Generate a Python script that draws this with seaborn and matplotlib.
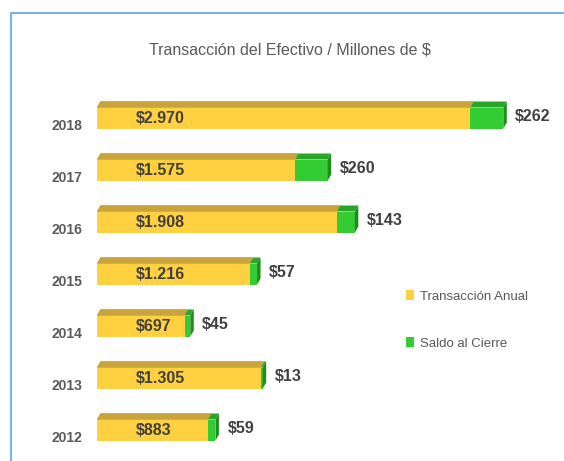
import matplotlib
matplotlib.use("Agg")
import numpy as np
import pandas as pd
import seaborn as sns
import matplotlib.pyplot as plt
from matplotlib.patches import Polygon, Rectangle, Patch
from matplotlib.transforms import ScaledTranslation

# ---- data ----
years = ["2018", "2017", "2016", "2015", "2014", "2013", "2012"]
transaccion = [2970, 1575, 1908, 1216, 697, 1305, 883]
saldo = [262, 260, 143, 57, 45, 13, 59]
labels_trans = ["$2.970", "$1.575", "$1.908", "$1.216", "$697", "$1.305", "$883"]
labels_saldo = ["$262", "$260", "$143", "$57", "$45", "$13", "$59"]
series_names = ["Transacción Anual", "Saldo al Cierre"]
title = "Transacción del Efectivo / Millones de $"

df = pd.DataFrame({"year": years, "trans": transaccion, "saldo": saldo})
df["total"] = df["trans"] + df["saldo"]

YELLOW = "#FFD03F"
YELLOW_TOP = "#C9A43C"
GREEN = "#33CC33"
GREEN_TOP = "#2AA52A"
GREEN_SIDE = "#1F8C1F"
TXT = "#404040"
TXT2 = "#595959"

sns.set_theme(style="white")
plt.rcParams["font.family"] = ["Liberation Sans", "DejaVu Sans"]

W, H = 564, 461
fig = plt.figure(figsize=(W / 100, H / 100), dpi=100)
ax = fig.add_axes([97 / W, (H - 456) / H, 440 / W, (456 - 92) / H])

bw = 21 / 52
sns.barplot(data=df, y="year", x="total", order=years, orient="h", color=GREEN,
            saturation=1, width=bw, errorbar=None, linewidth=0, ax=ax)
sns.barplot(data=df, y="year", x="trans", order=years, orient="h", color=YELLOW,
            saturation=1, width=bw, errorbar=None, linewidth=0, ax=ax)
ax.set_xlim(0, 3500)
ax.set_ylim(6.5, -0.5)

# 3D faces (depth in pixels -> data)
p0 = ax.transData.transform((0, 0))
p1 = ax.transData.transform((1, 1))
ppx = p1[0] - p0[0]
ppy = abs(p1[1] - p0[1])
dx = 3.5 / ppx
dy = 6.0 / ppy

n = len(years)
green_bars = ax.patches[:n]
yellow_bars = ax.patches[n:2 * n]
for p in green_bars:
    x0, x1 = p.get_x(), p.get_x() + p.get_width()
    yt, yb = p.get_y(), p.get_y() + p.get_height()
    ax.add_patch(Polygon([(x0, yt), (x0 + dx, yt - dy), (x1 + dx, yt - dy), (x1, yt)],
                         closed=True, facecolor=GREEN_TOP, edgecolor="none", zorder=2))
    ax.add_patch(Polygon([(x1, yt), (x1 + dx, yt - dy), (x1 + dx, yb - dy), (x1, yb)],
                         closed=True, facecolor=GREEN_SIDE, edgecolor="none", zorder=2))
for p in yellow_bars:
    x0, x1 = p.get_x(), p.get_x() + p.get_width()
    yt = p.get_y()
    ax.add_patch(Polygon([(x0, yt), (x0 + dx, yt - dy), (x1 + dx, yt - dy), (x1, yt)],
                         closed=True, facecolor=YELLOW_TOP, edgecolor="none", zorder=3))

pt = 72 / 100  # points per pixel
for i in range(n):
    ax.annotate(labels_trans[i], xy=(0, i), xytext=(39 * pt, 0), textcoords="offset points",
                ha="left", va="center", fontsize=11.5, fontweight="bold", color=TXT, zorder=5)
    ax.annotate(labels_saldo[i], xy=(df["total"][i], i), xytext=(12 * pt, 1.5 * pt),
                textcoords="offset points", ha="left", va="center", fontsize=11.5,
                fontweight="bold", color=TXT, zorder=5)

ax.set_yticks(range(n))
ax.set_yticklabels(years)
ax.tick_params(axis="y", length=0, pad=15 * pt, labelsize=10, labelcolor=TXT2)
for lbl in ax.get_yticklabels():
    lbl.set_fontweight("bold")
    lbl.set_transform(lbl.get_transform() + ScaledTranslation(0, -6 / 100, fig.dpi_scale_trans))
ax.set_xticks([])
ax.set_xlabel("")
ax.set_ylabel("")
for s in ax.spines.values():
    s.set_visible(False)
ax.patch.set_alpha(0)

fig.text(290 / W, 1 - 54 / H, title, ha="center", va="baseline", fontsize=11.5, color=TXT2)

handles = [Patch(facecolor=YELLOW, edgecolor="none"), Patch(facecolor=GREEN, edgecolor="none")]
fig.legend(handles, series_names, loc="upper left", bbox_to_anchor=(406 / W, 1 - 290 / H),
           frameon=False, fontsize=9.5, handlelength=0.63, handleheight=0.8,
           handletextpad=0.45, labelspacing=2.6, borderpad=0, borderaxespad=0,
           labelcolor=TXT2)

# chart frame
fig.patches.append(Rectangle((10.5 / W, -0.2), 1.2, 1 - 12.5 / H + 0.2, transform=fig.transFigure,
                             fill=False, edgecolor="#7FB0E6", linewidth=1.5, zorder=0))

fig.savefig("out.png", dpi=100)
